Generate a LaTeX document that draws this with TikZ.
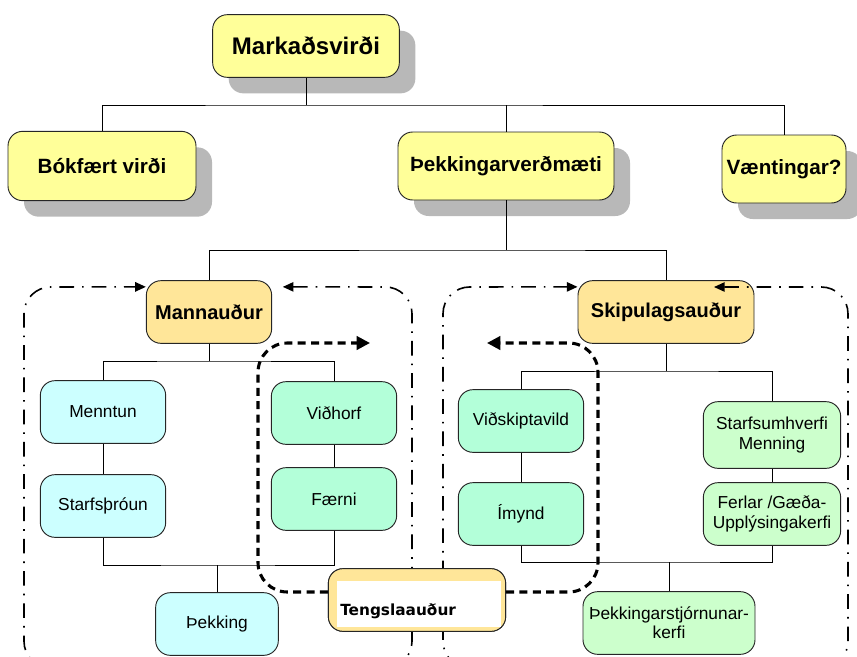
\documentclass[tikz,border=0pt]{standalone}
\usepackage{fontspec}
\setmainfont{Liberation Sans}
\newfontfamily\tengfont{DejaVu Sans}
\usetikzlibrary{arrows.meta,shadows}
\definecolor{topyellow}{HTML}{FFFF99}
\definecolor{capital}{HTML}{FFE699}
\definecolor{human}{HTML}{CCFFFF}
\definecolor{mint}{HTML}{B3FFD9}
\definecolor{struct}{HTML}{CCFFCC}
\definecolor{shade}{HTML}{B8B8B8}
\tikzset{
  box/.style={draw=black!85, line width=0.7pt, rounded corners=11pt, align=center,
    inner sep=2pt, minimum height=47pt},
  topbox/.style={box, fill=topyellow, font=\fontsize{15.5}{18}\selectfont\bfseries,
    general shadow={shadow xshift=12pt, shadow yshift=-12pt, fill=shade, draw=none}},
  capbox/.style={box, fill=capital, minimum width=94pt, font=\fontsize{15}{18}\selectfont\bfseries},
  leaf/.style={box, minimum width=94pt, font=\fontsize{13}{14.5}\selectfont},
  link/.style={line width=0.7pt},
  dashdot/.style={line width=1.2pt, rounded corners=20pt,
    dash pattern=on 11pt off 6pt on 1.2pt off 6pt,
    {Triangle[length=8pt,width=7pt]}-{Triangle[length=8pt,width=7pt]}},
  tie/.style={line width=2.3pt, rounded corners=22pt, dash pattern=on 6pt off 4pt,
    -{Triangle[length=10pt,width=10pt]}}
}
\begin{document}
\begin{tikzpicture}[x=0.75pt,y=-0.75pt]
  \useasboundingbox (0,0) rectangle (857,657);
  \clip (0,0) rectangle (857,657);

  % value tree
  \node[topbox, minimum width=140pt, minimum height=47pt, font=\fontsize{18}{21}\selectfont\bfseries]
    (mv) at (306,46) {Markaðsvirði};
  \node[topbox, minimum width=141pt, minimum height=52pt] (bv) at (102,166) {Bókfært virði};
  \node[topbox, minimum width=162pt, minimum height=51pt] (tv) at (506,166) {Þekkingarverðmæti};
  \node[topbox, minimum width=93pt, minimum height=51pt] (vn) at (784,169) {Væntingar?};

  \node[capbox] (ma) at (209,312) {Mannauður};
  \node[capbox, minimum width=132pt] (sa) at (666,312) {Skipulagsauður};

  \node[leaf, fill=human] (me) at (103,412) {Menntun};
  \node[leaf, fill=human] (sp) at (103,506) {Starfsþróun};
  \node[leaf, fill=human, minimum width=92pt] (tk) at (217,624) {Þekking};
  \node[leaf, fill=mint] (vh) at (334,413) {Viðhorf};
  \node[leaf, fill=mint] (fa) at (334,499) {Færni};
  \node[leaf, fill=mint] (vs) at (521,421) {Viðskiptavild};
  \node[leaf, fill=mint] (im) at (521,514) {Ímynd};
  \node[leaf, fill=struct, minimum width=103pt, minimum height=50pt] (su) at (772,435) {Starfsumhverfi\\Menning};
  \node[leaf, fill=struct, minimum width=103pt] (fe) at (772,514) {Ferlar /Gæða-\\Upplýsingakerfi};
  \node[leaf, fill=struct, minimum width=129pt] (ks) at (669,623) {Þekkingarstjórnunar-\\kerfi};

  \coordinate (top) at (306,105);
  \coordinate (mid) at (506,250);
  \coordinate (mabus) at (209,361);
  \coordinate (sabus) at (666,371);
  \coordinate (lowL) at (217,565);
  \coordinate (lowR) at (669,562);

  \begin{scope}[link]
    \draw (mv.south) -- (top);
    \draw (bv.north) |- (top) -| (vn.north);
    \draw (tv.north) -- (tv.north |- top);
    \draw (tv.south) -- (mid);
    \draw (ma.north) |- (mid) -| (sa.north);
    \draw (ma.south) -- (mabus);
    \draw (me.north) |- (mabus) -| (vh.north);
    \draw (me) -- (sp);
    \draw (vh) -- (fa);
    \draw (sp.south) |- (lowL) -| (fa.south);
    \draw (lowL) -- (tk.north);
    \draw (sa.south) -- (sabus);
    \draw (vs.north) |- (sabus) -| (su.north);
    \draw (vs) -- (im);
    \draw (su) -- (fe);
    \draw (im.south) |- (lowR) -| (fe.south);
    \draw (lowR) -- (ks.north);
  \end{scope}

  % capital groups
  \draw[dashdot] ([xshift=8pt,yshift=-5pt]ma.north east) -- (412,287) -- (412,668)
    -- (24,668) -- (24,287) -- ([yshift=-5pt]ma.north west);
  \draw[dashdot] (714,287) -- (848,287) -- (848,668)
    -- (443,668) -- (443,287) -- ([yshift=-5pt]sa.north west);

  % relational capital
  \node[box, fill=capital, minimum width=133pt, minimum height=47pt] (ta) at (417,600) {};
  \coordinate (tarrL) at (370,343);
  \coordinate (tarrR) at (487,343);
  \draw[tie] ([yshift=6pt]ta.west) -- (258,592) -- (258,343) -- (tarrL);
  \draw[tie] ([yshift=6pt]ta.east) -- (598,592) -- (598,343) -- (tarrR);
  \node[box, fill=capital, minimum width=133pt, minimum height=47pt] (ta) at (417,600) {};
  \node[fill=white, inner sep=0pt, minimum width=123pt, minimum height=35pt] (tin) at (419,604) {};
  \node[anchor=base west, inner sep=0pt, font=\tengfont\fontsize{11.5}{13}\selectfont\bfseries]
    (tl) at (340,615) {Tengslaauður};
\end{tikzpicture}
\end{document}
